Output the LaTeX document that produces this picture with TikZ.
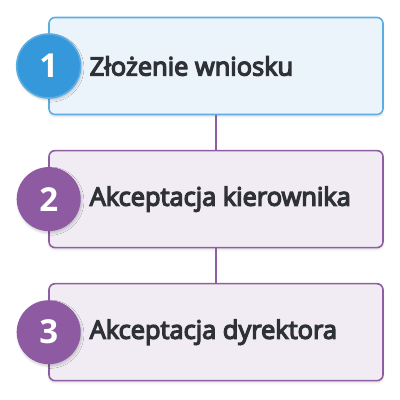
\documentclass[tikz,border=0pt]{standalone}
\usepackage{fontspec}
\setmainfont{Open Sans}
\newfontfamily\stepfont[FakeBold=5]{Open Sans}
\usetikzlibrary{positioning,shadows.blur}

\definecolor{bluefill}{HTML}{EBF3FB}
\definecolor{blueline}{HTML}{5DADE2}
\definecolor{bluedot}{HTML}{3498DB}
\definecolor{purplefill}{HTML}{F1ECF4}
\definecolor{purpleline}{HTML}{8E5EA2}
\definecolor{purpledot}{HTML}{8E5BA3}
\definecolor{textdark}{HTML}{2E3236}

\tikzset{
  stepbox/.style={draw=purpleline, fill=purplefill, line width=1.6pt,
    rounded corners=6pt, minimum width=334pt, minimum height=97pt,
    blur shadow={shadow blur steps=8, shadow xshift=0pt, shadow yshift=-2pt, shadow opacity=12}},
  stepdot/.style={circle, fill=purpledot, minimum size=64pt, inner sep=0pt,
    text=white, font=\bfseries\fontsize{33}{33}\selectfont,
    blur shadow={shadow blur steps=8, shadow xshift=1pt, shadow yshift=-2pt, shadow opacity=20}},
  steptext/.style={anchor=west, text=textdark, font=\stepfont\fontsize{25.4}{25.4}\selectfont},
  link/.style={draw=purpleline, line width=1.4pt}
}

\begin{document}
\begin{tikzpicture}
\useasboundingbox (0,0) rectangle (400pt,400pt);
\node[stepbox, draw=blueline, fill=bluefill] (box1) at (216pt,334pt) {};
\node[stepbox, below=34.5pt of box1] (box2) {};
\node[stepbox, below=34.5pt of box2] (box3) {};
\draw[link] (box1.south) -- (box2.north);
\draw[link] (box2.south) -- (box3.north);
\node[stepdot, fill=bluedot, draw=blueline, line width=1.6pt] (dot1) at ([xshift=0.5pt]box1.west) {1};
\node[stepdot] (dot2) at ([xshift=0.5pt]box2.west) {2};
\node[stepdot] (dot3) at ([xshift=0.5pt]box3.west) {3};
\node[steptext] (text1) at ([xshift=38pt]box1.west) {Złożenie wniosku};
\node[steptext] (text2) at ([xshift=38pt]box2.west) {Akceptacja kierownika};
\node[steptext] (text3) at ([xshift=38pt]box3.west) {Akceptacja dyrektora};
\end{tikzpicture}
\end{document}
